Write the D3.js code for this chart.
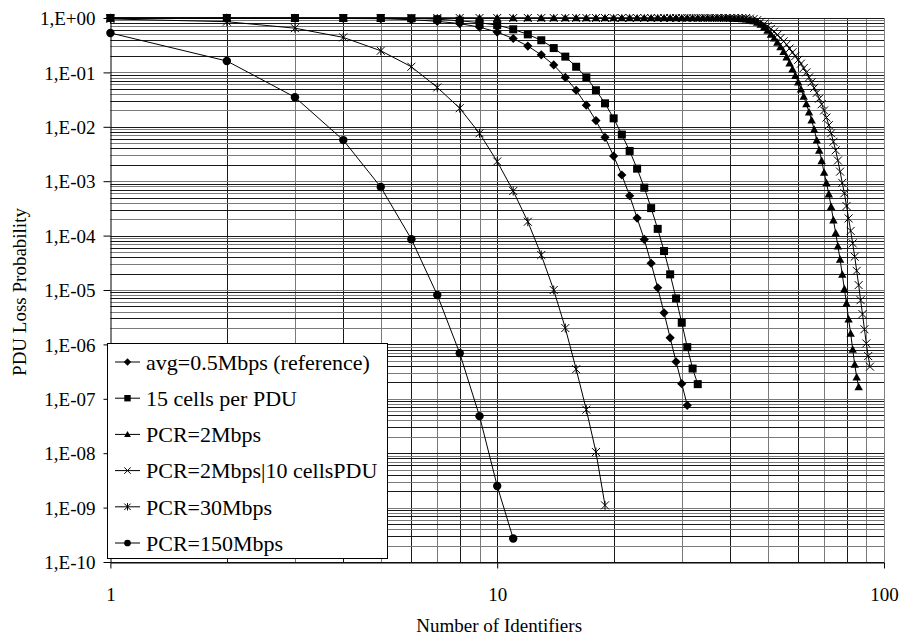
<!DOCTYPE html>
<html>
<head>
<meta charset="utf-8">
<script src="https://cdn.jsdelivr.net/npm/d3@7"></script>
<style>
html,body{margin:0;padding:0;background:#fff;}
svg{display:block;}
text{font-family:"Liberation Serif","Times New Roman",serif;fill:#000;}
</style>
</head>
<body>
<svg id="chart" width="901" height="637"></svg>
<script>
// ---------- data ----------
const seriesNames = ["avg=0.5Mbps (reference)","15 cells per PDU","PCR=2Mbps","PCR=2Mbps|10 cellsPDU","PCR=30Mbps","PCR=150Mbps"];
const seriesMarkers = ["diamond","square","triangle","xmark","star","circle"];

// values for x = 1, 2, 3, ...
const avgRef = [1,1,0.99,0.98,0.97,0.93,0.87,0.79,0.68,0.55,0.42,0.305,0.21,0.137,0.081,0.047,0.025,0.013,0.0064,0.0029,0.0013,5.4e-4,2.1e-4,8.5e-5,3.1e-5,1.1e-5,3.8e-6,1.32e-6,4.8e-7,1.9e-7,7.6e-8];
const cells15 = [1,1,1,1,1,0.99,0.95,0.89,0.82,0.74,0.62,0.50,0.39,0.28,0.195,0.127,0.081,0.047,0.027,0.0143,0.0072,0.0036,0.0017,7.6e-4,3.2e-4,1.33e-4,5.2e-5,1.94e-5,7.0e-6,2.5e-6,8.9e-7,3.6e-7,1.86e-7];
const pcr2 = [1,1,1,1,1,1,1,1,1,1, 1,1,1,1,1,1,1,1,1,1, 1,1,1,1,1,1,1,1,1,1, 1,1,1,1,1,1,1,1,1,
  0.991,0.984,0.977,0.966,0.955,0.923,0.881,0.832,0.759,0.676,0.589,0.501,0.427,0.355,0.295,0.240,0.191,0.148,0.115,0.0871,0.0661,0.049,0.0363,0.0263,0.0186,0.0132,0.0089,
  5.7e-3,3.7e-3,2.37e-3,1.45e-3,9.3e-4,5.8e-4,3.4e-4,1.93e-4,1.12e-4,6.4e-5,3.65e-5,1.93e-5,1.04e-5,5.7e-6,2.9e-6,1.59e-6,8.1e-7,4.3e-7,2.5e-7,1.65e-7];
const pcr2c10 = [1,1,1,1,1,1,1,1,1,1, 1,1,1,1,1,1,1,1,1,1, 1,1,1,1,1,1,1,1,1,1, 1,1,1,1,1,1,1,1,1,1, 1,1,1,1,
  0.977,0.955,0.912,0.851,0.776,0.708,0.631,0.562,0.490,0.427,0.372,0.324,0.275,0.234,0.2,0.17,0.145,0.12,0.1,0.081,0.066,0.052,0.042,0.033,0.026,0.02,0.0148,0.0107,0.0076,
  5.3e-3,3.7e-3,2.4e-3,1.5e-3,9.3e-4,6.0e-4,3.5e-4,2.07e-4,1.22e-4,7.2e-5,4.1e-5,2.25e-5,1.23e-5,6.5e-6,3.6e-6,1.9e-6,1.04e-6,6.1e-7,3.9e-7];
const pcr30 = [0.96,0.855,0.65,0.44,0.25,0.127,0.053,0.022,0.0076,0.0023,6.6e-4,1.8e-4,4.4e-5,1.0e-5,2.0e-6,3.5e-7,6.3e-8,1.05e-8,1.1e-9];
const pcr150 = [0.53,0.162,0.035,0.0057,7.8e-4,8.6e-5,8.1e-6,6.9e-7,4.8e-8,2.5e-9,2.7e-10];

const yTickValues = [1,1e-1,1e-2,1e-3,1e-4,1e-5,1e-6,1e-7,1e-8,1e-9,1e-10];
const yTickLabels = ["1,E+00","1,E-01","1,E-02","1,E-03","1,E-04","1,E-05","1,E-06","1,E-07","1,E-08","1,E-09","1,E-10"];
const xTickValues = [1,10,100];
const xTickLabels = ["1","10","100"];
const xTitle = "Number of Identifiers";
const yTitle = "PDU Loss Probability";

// ---------- layout ----------
const svg = d3.select("#chart");
const L = 110.4, R = 884, T = 18, B = 562;
const x = d3.scaleLog().domain([1,100]).range([L,R]);
const y = d3.scaleLog().domain([1e-10,1]).range([B,T]);

const allSeries = [avgRef,cells15,pcr2,pcr2c10,pcr30,pcr150].map((vals,i)=>({
  name: seriesNames[i], marker: seriesMarkers[i],
  pts: vals.map((v,j)=>({x:j+1,y:v}))
}));

// grid
const minorX = [];
[1,10].forEach(d=>{for(let k=2;k<=9;k++) minorX.push(d*k);});
const gridX = minorX.concat([10]);
const gridY = [];
for(let e=-10;e<0;e++){ for(let k=1;k<=9;k++){ gridY.push(k*Math.pow(10,e)); } }
gridY.push(1);

const g = svg.append("g");
g.selectAll("line.gx").data(gridX).join("line")
  .attr("x1",d=>Math.round(x(d))+0.5).attr("x2",d=>Math.round(x(d))+0.5)
  .attr("y1",T).attr("y2",B).attr("stroke",(d,i)=>i%2?"#7a7a7a":"#1a1a1a").attr("stroke-width",1);
g.selectAll("line.gy").data(gridY).join("line")
  .attr("y1",d=>Math.round(y(d))+0.5).attr("y2",d=>Math.round(y(d))+0.5)
  .attr("x1",L).attr("x2",R).attr("stroke",(d,i)=>i%2?"#7a7a7a":"#1a1a1a").attr("stroke-width",1);
// frame right
g.append("line").attr("x1",Math.round(R)+0.5).attr("x2",Math.round(R)+0.5).attr("y1",T).attr("y2",B).attr("stroke","#808080");

// axes
const yAxis = d3.axisLeft(y).tickValues(yTickValues).tickSize(7).tickSizeOuter(0)
  .tickFormat((d,i)=>yTickLabels[i]);
const ya = svg.append("g").attr("transform",`translate(${Math.round(L)+0.5},0)`).call(yAxis);
ya.select(".domain").attr("stroke","#000");
ya.selectAll(".tick line").attr("stroke","#000");
ya.selectAll(".tick text").attr("font-size","19px").attr("font-family","Liberation Serif").attr("x",-15).attr("dy","0.35em");

const xAxis = d3.axisBottom(x).tickValues(xTickValues).tickSize(6).tickSizeOuter(0)
  .tickFormat((d,i)=>xTickLabels[i]);
const xa = svg.append("g").attr("transform",`translate(0,${Math.round(B)+0.5})`).call(xAxis);
xa.select(".domain").attr("stroke","#000");
xa.selectAll(".tick line").attr("stroke","#000");
xa.selectAll(".tick text").attr("font-size","19px").attr("font-family","Liberation Serif").attr("y",25).attr("dy","0.71em");

// titles
svg.append("text").attr("x",(L+R)/2+2).attr("y",632).attr("text-anchor","middle")
  .attr("font-size","19px").text(xTitle);
svg.append("text").attr("transform",`translate(26,${(T+B)/2+2}) rotate(-90)`).attr("text-anchor","middle")
  .attr("font-size","19px").text(yTitle);

// markers
function drawMarker(sel, type, cx, cy, s){
  s = s||1;
  if(type==="diamond"){
    const r=4.6*s;
    sel.append("path").attr("d",`M${cx},${cy-r}L${cx+r},${cy}L${cx},${cy+r}L${cx-r},${cy}Z`).attr("fill","#000");
  } else if(type==="square"){
    const r=4*s;
    sel.append("rect").attr("x",cx-r).attr("y",cy-r).attr("width",2*r).attr("height",2*r).attr("fill","#000");
  } else if(type==="triangle"){
    const h=4.2*s, w=4.2*s;
    sel.append("path").attr("d",`M${cx},${cy-h}L${cx+w},${cy+h*0.8}L${cx-w},${cy+h*0.8}Z`).attr("fill","#000");
  } else if(type==="circle"){
    sel.append("circle").attr("cx",cx).attr("cy",cy).attr("r",4.2*s).attr("fill","#000");
  } else if(type==="xmark"){
    const r=4*s;
    sel.append("path").attr("d",`M${cx-r},${cy-r}L${cx+r},${cy+r}M${cx-r},${cy+r}L${cx+r},${cy-r}`).attr("stroke","#000").attr("stroke-width",1).attr("fill","none");
  } else if(type==="star"){
    const r=4*s;
    sel.append("path").attr("d",`M${cx-r},${cy-r}L${cx+r},${cy+r}M${cx-r},${cy+r}L${cx+r},${cy-r}M${cx},${cy-r-0.5}L${cx},${cy+r+0.5}`).attr("stroke","#000").attr("stroke-width",1).attr("fill","none");
  }
}

const line = d3.line().x(d=>x(d.x)).y(d=>y(d.y));
const plot = svg.append("g");
allSeries.forEach(s=>{
  const sg = plot.append("g");
  sg.append("path").attr("d",line(s.pts)).attr("fill","none").attr("stroke","#000").attr("stroke-width",1);
  s.pts.forEach(p=>drawMarker(sg, s.marker, x(p.x), y(p.y)));
});

// legend
const lg = svg.append("g");
const lx0 = 107.5, ly0 = 343.5, lw = 280, lh = 215;
lg.append("rect").attr("x",lx0).attr("y",ly0).attr("width",lw).attr("height",lh).attr("fill","#fff").attr("stroke","#000").attr("stroke-width",1);
allSeries.forEach((s,i)=>{
  const cy = 362 + i*36.2;
  lg.append("line").attr("x1",115).attr("x2",140).attr("y1",cy).attr("y2",cy).attr("stroke","#000").attr("stroke-width",1);
  drawMarker(lg, s.marker, 127.5, cy, 0.8);
  lg.append("text").attr("x",146).attr("y",cy).attr("dy","0.35em").attr("font-size","22px").text(s.name);
});
</script>
</body>
</html>
